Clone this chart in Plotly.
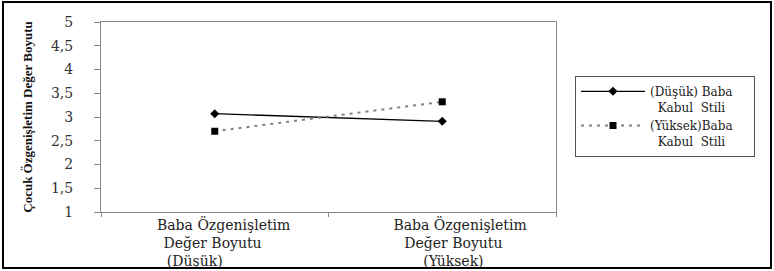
import plotly.graph_objects as go

categories = ["Baba Özgenişletim<br>Değer Boyutu<br>(Düşük)",
              "Baba Özgenişletim<br>Değer Boyutu<br>(Yüksek)"]
series_names = ["(Düşük) Baba<br>  Kabul  Stili", "(Yüksek)Baba<br>  Kabul  Stili"]
low_accept = [3.07, 2.91]
high_accept = [2.70, 3.32]
y_ticks = [1, 1.5, 2, 2.5, 3, 3.5, 4, 4.5, 5]
y_title = "Çocuk Özgenişletim Değer Boyutu"

W, H = 774, 271
L, R, T, B = 101, 218, 22, 59
pw, ph = W - L - R, H - T - B

SERIF = "DejaVu Serif"
NB = "\u00a0"

# per-line horizontal nudges of the category labels (in nbsp units; + = right)
label_shift = [[4, -1, -9], [8, 5, 5]]


def shifted(label, shifts):
    out = []
    for line, s in zip(label.split("<br>"), shifts):
        line = line.replace(" ", NB)
        out.append(NB * s + line if s > 0 else line + NB * (-s))
    return "<br>".join(out)


tick_text = [shifted(c, s) for c, s in zip(categories, label_shift)]

fig = go.Figure()
fig.add_trace(go.Scatter(
    x=categories, y=low_accept, name=series_names[0].replace(" ", NB) + NB * 6,
    mode="lines+markers",
    line=dict(color="black", width=1.3),
    marker=dict(symbol="diamond", size=7, color="black")))
fig.add_trace(go.Scatter(
    x=categories, y=high_accept, name=series_names[1].replace(" ", NB) + NB * 6,
    mode="lines+markers",
    line=dict(color="#808080", width=2, dash="3px,5px"),
    marker=dict(symbol="square", size=7, color="black")))

# outer frame
fig.add_shape(type="rect", xref="paper", yref="paper",
              x0=(3 - L) / pw, x1=(771 - L) / pw,
              y0=(H - B - 268) / ph, y1=(H - B - 2) / ph,
              line=dict(color="black", width=2))

fig.update_layout(
    width=W, height=H, margin=dict(l=L, r=R, t=T, b=B, autoexpand=False),
    paper_bgcolor="white", plot_bgcolor="white",
    separators=", ",
    font=dict(family=SERIF, size=14, color="#222"),
    showlegend=True,
    legend=dict(x=(575 - L) / pw, y=(H - B - 76) / ph, xanchor="left", yanchor="top",
                bordercolor="#555", borderwidth=1, bgcolor="white",
                font=dict(family=SERIF, size=12, color="#222"),
                valign="top", tracegroupgap=0, itemwidth=64),
    xaxis=dict(type="category", range=[-0.5, 1.5], tickson="boundaries",
               tickvals=categories, ticktext=tick_text,
               ticks="outside", ticklen=4, tickcolor="#888",
               showline=True, linecolor="#888", mirror=True, showgrid=False,
               tickfont=dict(family=SERIF, size=14, color="#222")),
    yaxis=dict(range=[1, 5], tickvals=y_ticks, ticks="outside", ticklen=6,
               tickcolor="#888", showline=True, linecolor="#888", mirror=True,
               showgrid=False, ticklabelstandoff=18, automargin=False,
               tickfont=dict(family=SERIF, size=14, color="#333"),
               title=dict(text="<b>" + y_title + "</b>", standoff=15,
                          font=dict(family="Liberation Serif", size=13, color="#111"))),
)

fig.write_html("out.html", config={"displayModeBar": False},
               post_script="document.body.style.margin='0';document.body.style.overflow='hidden';")
